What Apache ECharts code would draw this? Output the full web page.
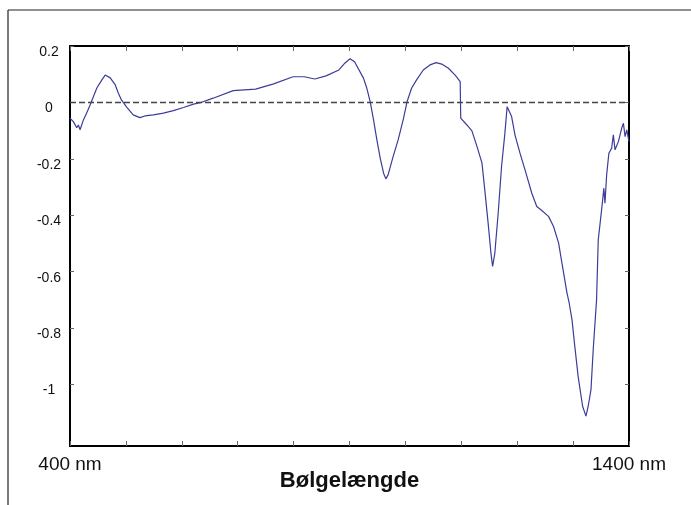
<!DOCTYPE html>
<html>
<head>
<meta charset="utf-8">
<script src="https://cdn.jsdelivr.net/npm/echarts@6/dist/echarts.min.js"></script>
<style>
  html, body { margin: 0; padding: 0; background: #fff; }
  #chart { width: 691px; height: 505px; }
</style>
</head>
<body>
<div id="chart"></div>
<script>
// wavelength in nm
const wavelength = [
  400, 406, 412, 415, 418, 421, 424, 430, 436, 442, 448, 457, 463, 466, 472, 481, 486, 492, 501, 513,
  525, 534, 549, 567, 585, 603, 621, 633, 656, 692, 732, 763, 799, 819, 838, 858, 881, 892, 901, 909,
  925, 931, 937, 943, 949, 955, 961, 965, 969, 978, 987, 996, 1003, 1011, 1020, 1032, 1044, 1055, 1065, 1077,
  1089, 1098, 1099, 1110, 1119, 1128, 1137, 1142, 1148, 1153, 1156, 1160, 1166, 1172, 1178, 1182, 1185, 1190, 1196, 1205,
  1214, 1226, 1235, 1244, 1256, 1265, 1274, 1280, 1289, 1293, 1298, 1303, 1309, 1317, 1323, 1327, 1332, 1336, 1342, 1345,
  1351, 1355, 1357, 1360, 1364, 1369, 1372, 1375, 1381, 1387, 1390, 1393, 1396, 1400
];
const signal = [
  -0.056, -0.068, -0.090, -0.080, -0.097, -0.090, -0.062, -0.037, -0.009, 0.021, 0.051, 0.080, 0.097, 0.101, 0.087, 0.062, 0.035, 0.009, -0.016, -0.044,
  -0.054, -0.048, -0.044, -0.038, -0.029, -0.018, -0.006, -0.001, 0.015, 0.042, 0.047, 0.065, 0.091, 0.091, 0.083, 0.094, 0.115, 0.140, 0.155, 0.144,
  0.086, 0.050, 0.003, -0.062, -0.133, -0.198, -0.251, -0.271, -0.257, -0.192, -0.133, -0.062, 0.003, 0.050, 0.080, 0.115, 0.133, 0.141, 0.136, 0.121,
  0.097, 0.074, -0.056, -0.080, -0.101, -0.156, -0.215, -0.310, -0.428, -0.534, -0.581, -0.534, -0.392, -0.227, -0.109, -0.015, -0.009, -0.050, -0.115, -0.180,
  -0.239, -0.321, -0.369, -0.383, -0.404, -0.440, -0.498, -0.569, -0.675, -0.711, -0.770, -0.864, -0.971, -1.077, -1.112, -1.077, -1.018, -0.876, -0.699, -0.487,
  -0.381, -0.304, -0.357, -0.257, -0.180, -0.162, -0.115, -0.168, -0.139, -0.091, -0.074, -0.121, -0.097, -0.139
];
const yTicks = [-1, -0.8, -0.6, -0.4, -0.2, 0, 0.2];
const xLabelValues = [400, 1400];
const xName = "Bølgelængde";

const points = wavelength.map((w, i) => [w, signal[i]]);

const chart = echarts.init(document.getElementById("chart"), null, { renderer: "canvas" });

const tickStyle = { color: "#666", width: 1 };
const axisLineStyle = { color: "#000", width: 2 };
const font = "Liberation Sans, Arial, Helvetica, sans-serif";

const option = {
  backgroundColor: "#fff",
  animation: false,
  grid: { left: 70, right: 62, top: 46, bottom: 59, containLabel: false },
  graphic: [
    { type: "line", shape: { x1: 8, y1: 10, x2: 691, y2: 10 }, style: { stroke: "#222", lineWidth: 1.2 } },
    { type: "line", shape: { x1: 8, y1: 10, x2: 8, y2: 505 }, style: { stroke: "#222", lineWidth: 1.2 } }
  ],
  xAxis: [
    {
      type: "value",
      position: "bottom",
      min: 400,
      max: 1400,
      interval: 100,
      splitLine: { show: false },
      axisLine: { show: true, onZero: false, lineStyle: axisLineStyle },
      axisTick: { show: true, inside: true, length: 5, lineStyle: tickStyle },
      axisLabel: {
        show: true,
        customValues: xLabelValues,
        formatter: (v) => v + " nm",
        margin: 9,
        fontSize: 19,
        color: "#111",
        fontFamily: font
      },
      name: xName,
      nameLocation: "middle",
      nameGap: 24,
      nameMoveOverlap: false,
      nameTextStyle: { fontSize: 22, fontWeight: "bold", color: "#111", fontFamily: font }
    },
    {
      type: "value",
      position: "top",
      min: 400,
      max: 1400,
      interval: 100,
      splitLine: { show: false },
      axisLine: { show: true, onZero: false, lineStyle: axisLineStyle },
      axisTick: { show: true, inside: true, length: 5, lineStyle: tickStyle },
      axisLabel: { show: false }
    }
  ],
  yAxis: [
    {
      type: "value",
      position: "left",
      min: -1.218,
      max: 0.2,
      splitLine: { show: false },
      axisLine: { show: true, onZero: false, lineStyle: axisLineStyle },
      axisTick: { show: true, inside: true, length: 4, customValues: yTicks, lineStyle: tickStyle },
      axisLabel: {
        show: true,
        customValues: yTicks,
        formatter: (v) => String(Math.round(v * 10) / 10),
        align: "center",
        verticalAlign: "top",
        lineHeight: 12,
        margin: 21,
        fontSize: 14,
        color: "#111",
        fontFamily: font
      }
    },
    {
      type: "value",
      position: "right",
      min: -1.218,
      max: 0.2,
      splitLine: { show: false },
      axisLine: { show: true, onZero: false, lineStyle: axisLineStyle },
      axisTick: { show: true, inside: true, length: 4, customValues: yTicks, lineStyle: tickStyle },
      axisLabel: { show: false }
    }
  ],
  series: [
    {
      type: "line",
      data: points,
      xAxisIndex: 0,
      yAxisIndex: 0,
      showSymbol: false,
      symbol: "none",
      lineStyle: { color: "#3c3c99", width: 1.2 },
      markLine: {
        silent: true,
        symbol: "none",
        label: { show: false },
        lineStyle: { color: "#444", type: [6, 3], width: 1.3 },
        data: [{ yAxis: 0 }]
      }
    }
  ]
};

chart.setOption(option);
</script>
</body>
</html>
